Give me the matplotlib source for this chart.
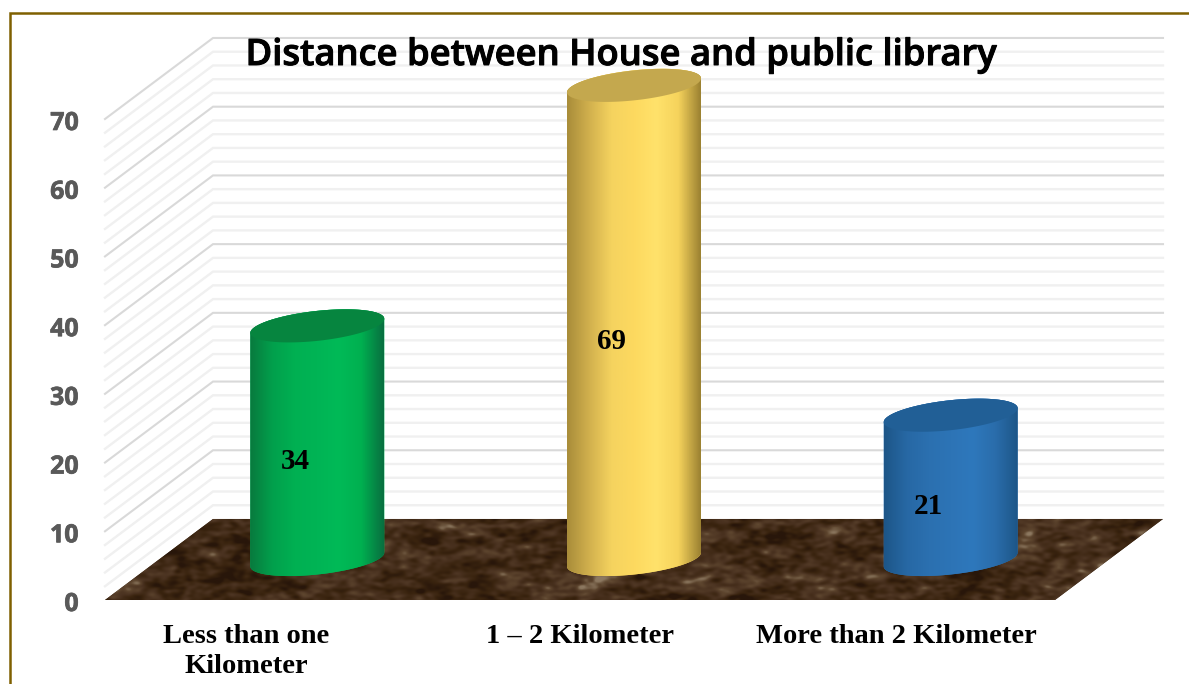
import numpy as np
import matplotlib.pyplot as plt
import matplotlib.patheffects as pe
from matplotlib.colors import LinearSegmentedColormap
from matplotlib.patches import Polygon, Rectangle
from matplotlib.transforms import ScaledTranslation

categories = ["Less than one\nKilometer", "1 – 2 Kilometer", "More than 2 Kilometer"]
values = [34, 69, 21]
label_pos = [-0.055, 1, 2]
yticks = [0, 10, 20, 30, 40, 50, 60, 70]
grid_levels = list(range(2, 72, 2))
body_colors = [
    ["#087a3e", "#02a04c", "#00b052", "#00b455", "#00ba57", "#00b050", "#087040"],
    ["#a98d3a", "#d2b14e", "#f5d35f", "#fdd95f", "#ffe26b", "#f6d35c", "#9c8232"],
    ["#1d5688", "#2768a4", "#2b70b0", "#2d74b6", "#2e78bc", "#2a6dab", "#1d5688"],
]
cap_colors = ["#06853f", "#c4a84e", "#215f96"]

W, H = 1189, 684
# depth of the 3d box, in data units
DX = 108 / 316.67
DY = 81 / 6.87
# cylinder shape, in data units
BAR_A = 67 / 316.67
BAR_B = 15 / 6.87
BAR_S = 7 / 6.87

fig = plt.figure(figsize=(W / 100, H / 100), dpi=100, facecolor="white")
ax = fig.add_axes([105 / W, 1 - 600 / H, 950 / W, 481 / H])
ax.set_xlim(-0.5, 2.5)
ax.set_ylim(0, 70)
ax.patch.set_visible(False)
for sp in ax.spines.values():
    sp.set_visible(False)

# walls
for v in grid_levels:
    major = v % 10 == 0
    col = "#d9d9d9" if major else "#f0f0f0"
    lw = 1.5 if major else 1.7
    ax.plot([-0.5, -0.5 + DX, 2.5 + DX], [v, v + DY, v + DY], color=col, lw=lw,
            clip_on=False, zorder=1 + major * 0.1, solid_joinstyle="miter")


def texture(shape):
    # mottled stone pattern for the floor
    rng = np.random.default_rng(7)
    out = np.zeros(shape)
    fy = np.fft.fftfreq(shape[0])[:, None]
    fx = np.fft.rfftfreq(shape[1])[None, :]
    for sx, sy, w in [(30, 10, 0.45), (10, 3, 0.8), (3, 1.5, 0.7)]:
        spec = np.fft.rfft2(rng.normal(size=shape))
        g = np.exp(-2 * np.pi**2 * ((fx * sx) ** 2 + (fy * sy) ** 2))
        n = np.fft.irfft2(spec * g, s=shape)
        out += w * n / n.std()
    return out


floor = Polygon([(-0.5, 0), (2.5, 0), (2.5 + DX, DY), (-0.5 + DX, DY)], closed=True,
                fc="#3e2a1b", ec="none", clip_on=False, zorder=2)
ax.add_patch(floor)
stone = LinearSegmentedColormap.from_list(
    "stone", ["#28160a", "#3a240f", "#4a3220", "#5d452e", "#8c7860"])
im = ax.imshow(texture((81, 1060)), extent=(-0.5, 2.5 + DX, 0, DY), cmap=stone,
               vmin=-2.4, vmax=3.6, aspect="auto", interpolation="bilinear", zorder=2.1)
im.set_clip_path(floor)
im.set_clip_box(fig.bbox)

# cylinders stand halfway into the box
for i, v in enumerate(values):
    cx = i + DX / 2
    base = DY / 2
    top = v + DY / 2
    t1 = np.linspace(np.pi, 2 * np.pi, 80)
    t2 = np.linspace(0, np.pi, 80)
    xs = np.r_[cx + BAR_A * np.cos(t1), cx + BAR_A * np.cos(t2)]
    ys = np.r_[base + BAR_S * np.cos(t1) + BAR_B * np.sin(t1),
               top + BAR_S * np.cos(t2) + BAR_B * np.sin(t2)]
    body = Polygon(np.c_[xs, ys], closed=True, fc=body_colors[i][3], ec="none",
                   clip_on=False, zorder=3)
    ax.add_patch(body)
    cmap = LinearSegmentedColormap.from_list("b%d" % i, body_colors[i])
    grad = ax.imshow(np.linspace(0, 1, 200)[None, :], extent=(cx - BAR_A, cx + BAR_A, 0, top + 5),
                     cmap=cmap, aspect="auto", zorder=3.1)
    grad.set_clip_path(body)
    grad.set_clip_box(fig.bbox)
    t = np.linspace(0, 2 * np.pi, 160)
    ax.add_patch(Polygon(np.c_[cx + BAR_A * np.cos(t), top + BAR_S * np.cos(t) + BAR_B * np.sin(t)],
                         closed=True, fc=cap_colors[i], ec="none", clip_on=False, zorder=3.2))
    ax.text(cx - 22 / 316.67, v / 2 + 3.1, str(v), family="Liberation Serif", weight="bold",
            fontsize=21, ha="center", va="center", color="black", zorder=5)

ax.set_xlim(-0.5, 2.5)
ax.set_ylim(0, 70)

ax.set_yticks(yticks)
ax.tick_params(axis="y", length=0, pad=19, labelsize=18, labelcolor="#595959")
nudge = ScaledTranslation(0, -1.5 / 100, fig.dpi_scale_trans)
for lab in ax.get_yticklabels():
    lab.set_family("Open Sans")
    lab.set_weight("bold")
    lab.set_transform(lab.get_transform() + nudge)
    lab.set_path_effects([pe.withStroke(linewidth=0.5, foreground="#595959")])

ax.set_xticks(label_pos)
ax.set_xticklabels(categories, family="Liberation Serif", weight="bold", fontsize=20.5,
                   color="black", linespacing=1.3)
ax.tick_params(axis="x", length=0, pad=17)

fig.text(621 / W, 1 - 56 / H, "Distance between House and public library", family="Open Sans",
         weight="semibold", fontsize=26.2, ha="center", va="center", color="black", zorder=6,
         path_effects=[pe.withStroke(linewidth=0.7, foreground="black")])

# thin gold frame
fig.add_artist(Rectangle((9.5 / W, -0.1), 1.2, 1.1 - 13.5 / H, transform=fig.transFigure,
                         fc="none", ec="#7f6000", lw=1.8))

fig.savefig("out.png", dpi=100)
